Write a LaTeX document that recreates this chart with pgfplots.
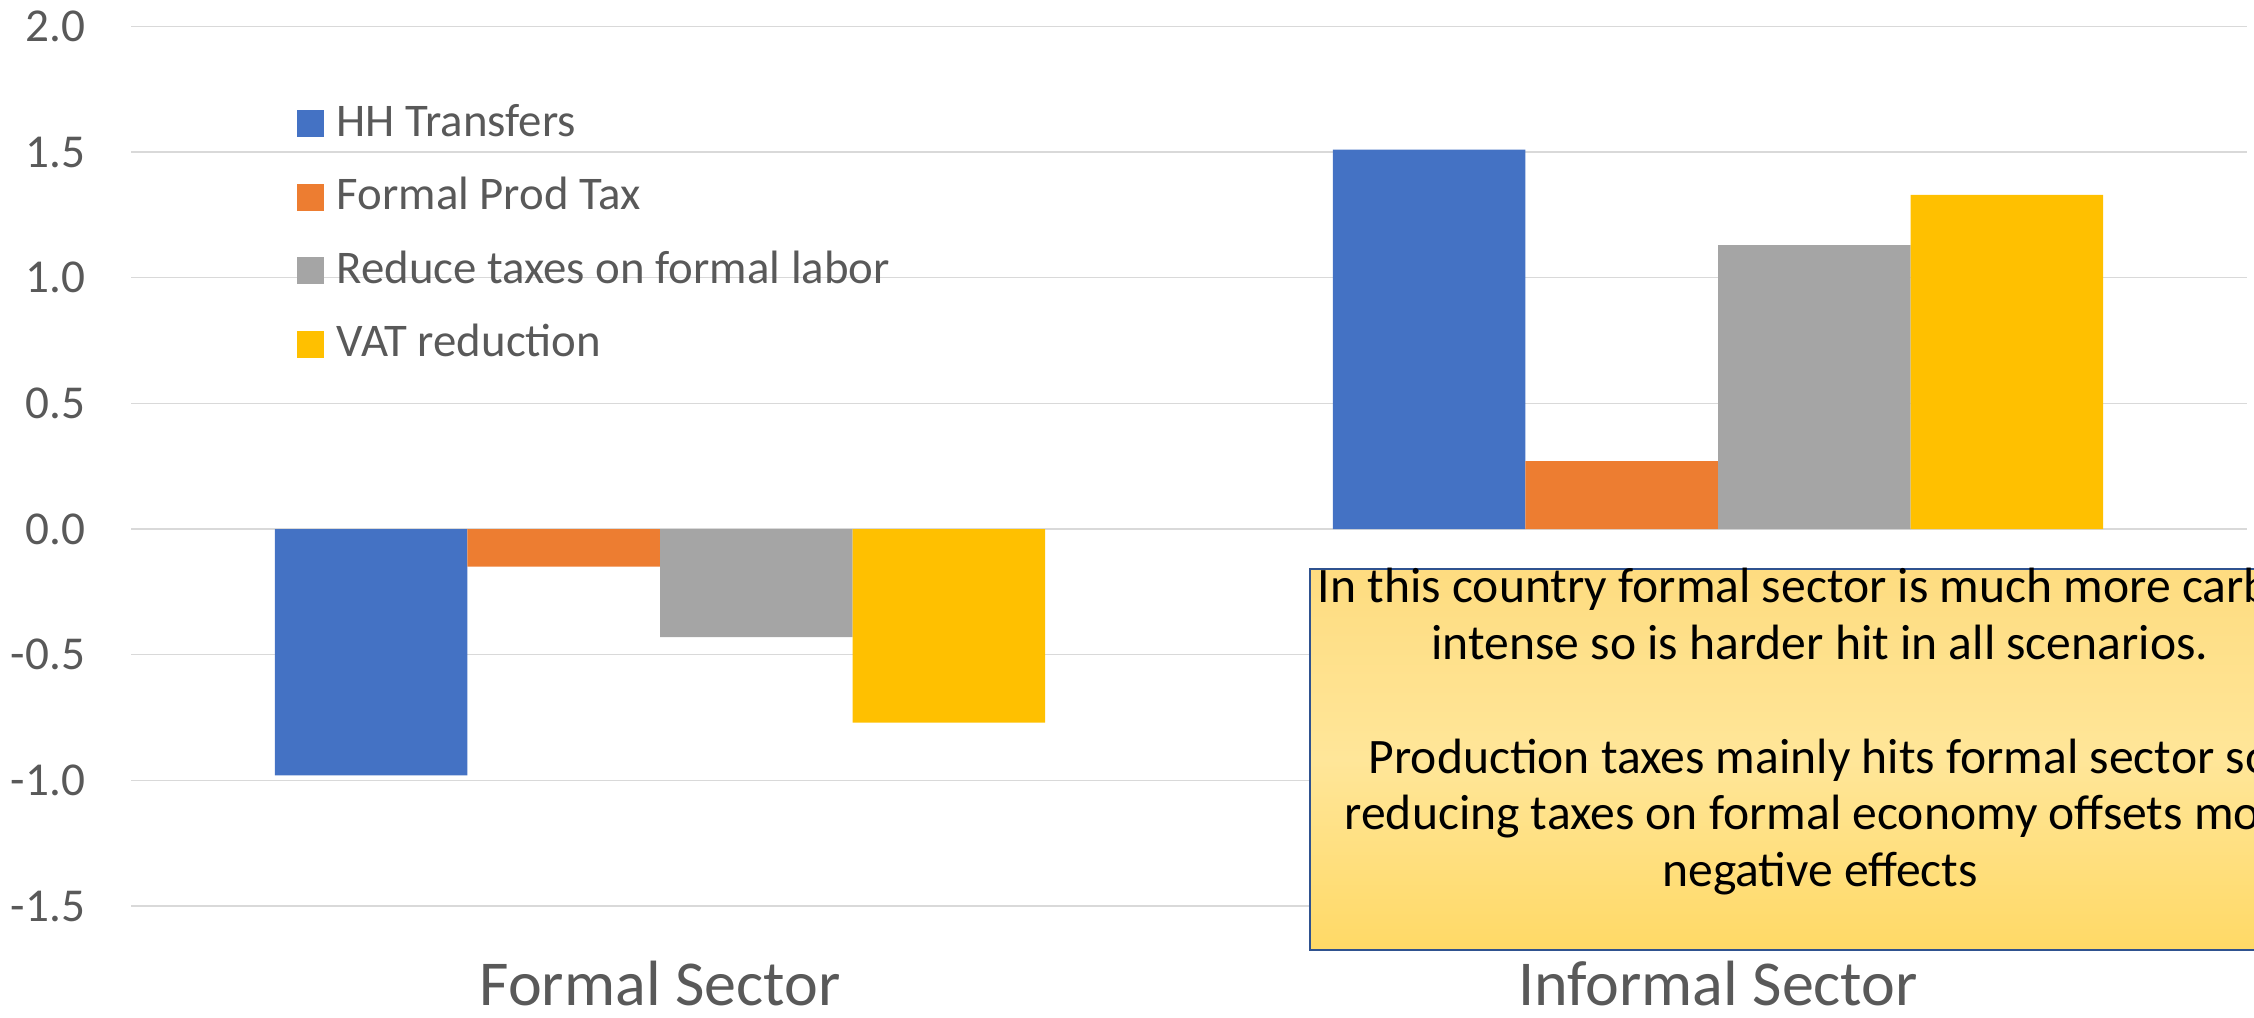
\documentclass[border=0pt]{standalone}
\usepackage{pgfplots}
\pgfplotsset{compat=1.18}
\usepackage{fontspec}
\setmainfont{Carlito}
\definecolor{cblue}{HTML}{4472C4}
\definecolor{corange}{HTML}{ED7D31}
\definecolor{cgray}{HTML}{A5A5A5}
\definecolor{cyellow}{HTML}{FFC000}
\definecolor{gridgray}{HTML}{D9D9D9}
\definecolor{labelgray}{HTML}{595959}
\definecolor{boxblue}{HTML}{2F528F}
\definecolor{boxtop}{HTML}{FEDC80}
\definecolor{boxmid}{HTML}{FFE699}
\definecolor{boxbot}{HTML}{FFD966}
\begin{document}
\begin{tikzpicture}
\begin{axis}[
  at={(32.75pt,27.75pt)}, anchor=south west,
  scale only axis, width=529pt, height=219.9pt,
  ybar=0pt, bar width=48.15pt,
  xmin=-0.5, xmax=1.5, ymin=-1.5, ymax=2,
  xtick={0,1}, xticklabels={Formal Sector, Informal Sector},
  ytick={-1.5,-1,-0.5,0,0.5,1,1.5,2},
  yticklabels={-1.5,-1.0,-0.5,0.0,0.5,1.0,1.5,2.0},
  major tick length=0pt,
  axis line style={draw=none},
  ymajorgrids, grid style={color=gridgray, line width=0.35pt},
  yticklabel style={font=\fontsize{11.8}{14}\selectfont, text=labelgray, anchor=east, inner sep=0pt, xshift=-11.25pt},
  xticklabel style={font=\fontsize{16}{19}\selectfont, text=labelgray, anchor=base, inner sep=0pt, yshift=-24.75pt},
  legend cell align=left,
  legend style={at={(rel axis cs:0,1)}, anchor=north west, xshift=41.25pt, yshift=-19.2pt,
    draw=none, fill=none, inner sep=0pt, row sep=10.1pt, column sep=3.25pt,
    font=\fontsize{11.7}{14}\selectfont, text=labelgray,
    nodes={inner sep=0pt, text height=8pt, text depth=0pt, anchor=base west}},
  legend image code/.code={\fill[#1] (0pt,-0.3pt) rectangle (6.75pt,6.45pt);},
]
\addplot[fill=cblue, draw=none] coordinates {(0,-0.98) (1,1.51)};
\addplot[fill=corange, draw=none] coordinates {(0,-0.15) (1,0.27)};
\addplot[fill=cgray, draw=none] coordinates {(0,-0.43) (1,1.13)};
\addplot[fill=cyellow, draw=none] coordinates {(0,-0.77) (1,1.33)};
\legend{HH Transfers, Formal Prod Tax, Reduce taxes on formal labor, VAT reduction}
\end{axis}
\begin{scope}
\clip (0,0) rectangle (563.5pt,254.25pt);
\draw[draw=boxblue, line width=0.6pt, top color=boxtop, bottom color=boxbot, middle color=boxmid] (327.5pt,16.75pt) rectangle (582.5pt,112pt);
\node[anchor=base, align=center, font=\fontsize{12.4}{14.2}\selectfont, inner sep=0pt] at (455pt,32.6pt)
 {In this country formal sector is much more carbon\\
  intense so is harder hit in all scenarios.\\[14.2pt]
  Production taxes mainly hits formal sector so\\
  reducing taxes on formal economy offsets most\\
  negative effects};
\end{scope}
\pgfresetboundingbox
\useasboundingbox (0,0) rectangle (563.5pt,254.25pt);
\end{tikzpicture}
\end{document}
